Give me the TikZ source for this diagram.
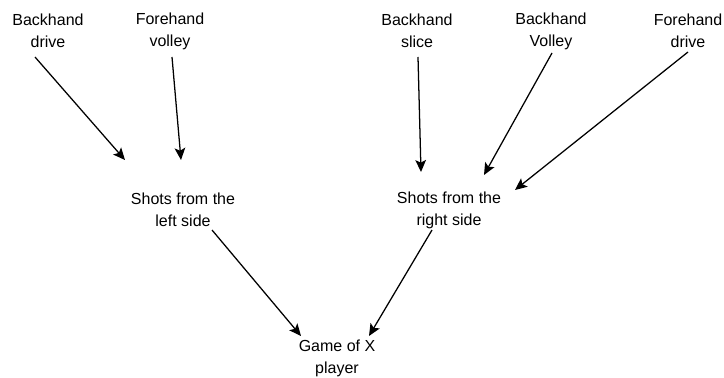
\documentclass[tikz,border=0pt]{standalone}
\usepackage{fontspec}
\setmainfont{Liberation Sans}
\usetikzlibrary{arrows.meta,calc}
\begin{document}
\begin{tikzpicture}[x=0.75pt,y=-0.75pt,
  lbl/.style={align=center,inner sep=0pt,font=\fontsize{12pt}{16.5pt}\selectfont},
  arr/.style={-{Stealth[length=9pt,width=8pt,inset=2pt]},line width=0.95pt}]
\useasboundingbox (0,0) rectangle (724,378);
\node[lbl] (bd) at (48,31) {Backhand\\drive};
\node[lbl] (fv) at (170,31) {Forehand\\volley};
\node[lbl] (bs) at (417,31) {Backhand\\slice};
\node[lbl] (bv) at (551,31) {Backhand\\Volley};
\node[lbl] (fd) at (688,31) {Forehand\\drive};
\node[lbl] (sl) at (183,210) {Shots from the\\left side};
\node[lbl] (sr) at (449,210) {Shots from the\\right side};
\node[lbl] (g) at (337,358) {Game of X\\player};
\draw[arr] ($(bd)+(-13,26)$) -- ($(sl)+(-58,-50)$);
\draw[arr] ($(fv)+(2,26)$) -- ($(sl)+(-2,-50)$);
\draw[arr] ($(bs)+(1,26)$) -- ($(sr)+(-28,-38)$);
\draw[arr] ($(bv)+(1,22)$) -- ($(sr)+(35,-35)$);
\draw[arr] ($(fd)+(0,21)$) -- ($(sr)+(66,-20)$);
\draw[arr] ($(sl)+(29,20)$) -- ($(g)+(-36,-22)$);
\draw[arr] ($(sr)+(-17,20)$) -- ($(g)+(32,-22)$);
\end{tikzpicture}
\end{document}
